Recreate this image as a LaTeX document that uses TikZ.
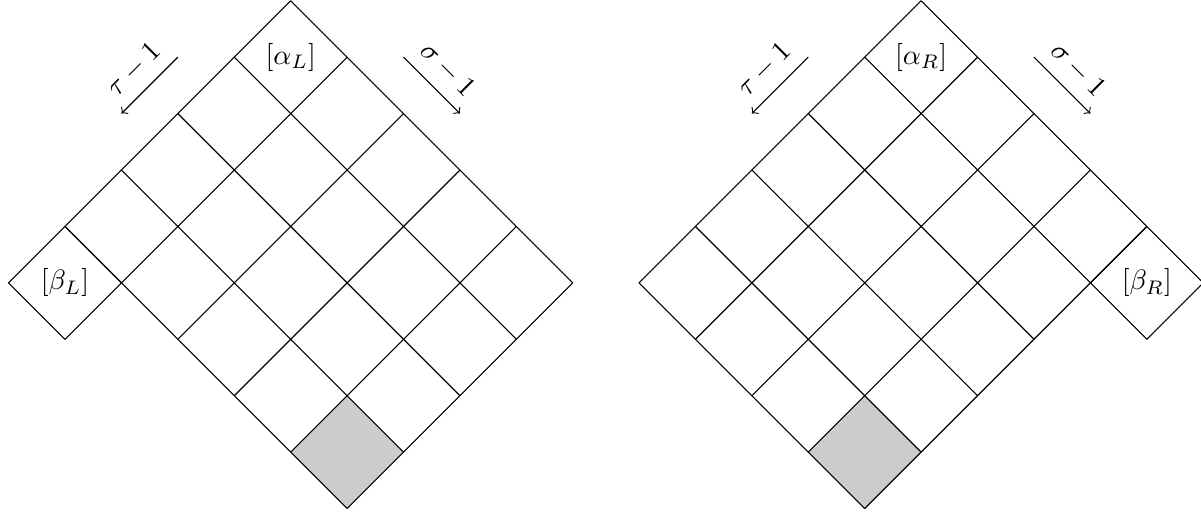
\documentclass[tikz,border=0pt]{standalone}
\begin{document}
\begin{tikzpicture}[>=to,shaded/.style={fill=black!20},lbl/.style={inner sep=1pt}]
	\useasboundingbox (-3.643,0.009) rectangle (11.407,-6.457);
	% left diagram
	\begin{scope}[rotate=-45]
		\fill[shaded] (4,-3) rectangle (5,-4);
		\draw (0,0) grid (5,-4);
		\draw (0,-4) rectangle (1,-5);
		\node[lbl] (alphaL) at (0.5,-0.5) {$[\alpha_L]$};
		\node[lbl] (betaL) at (0.5,-4.5) {$[\beta_L]$};
		\draw[->] (-0.5,-1.5) -- (-0.5,-2.5);
		\node[lbl,rotate=45] (tauL) at (-0.78,-2) {$\tau-1$};
		\draw[->] (1.5,0.5) -- (2.5,0.5);
		\node[lbl,rotate=-45] (sigmaL) at (2,0.78) {$\sigma-1$};
	\end{scope}
	% right diagram
	\begin{scope}[xshift=7.9cm,rotate=-45]
		\fill[shaded] (3,-4) rectangle (4,-5);
		\draw (0,0) grid (4,-5);
		\draw (4,0) rectangle (5,-1);
		\node[lbl] (alphaR) at (0.5,-0.5) {$[\alpha_R]$};
		\node[lbl] (betaR) at (4.5,-0.5) {$[\beta_R]$};
		\draw[->] (-0.5,-1.5) -- (-0.5,-2.5);
		\node[lbl,rotate=45] (tauR) at (-0.78,-2) {$\tau-1$};
		\draw[->] (1.5,0.5) -- (2.5,0.5);
		\node[lbl,rotate=-45] (sigmaR) at (2,0.78) {$\sigma-1$};
	\end{scope}
\end{tikzpicture}
\end{document}
